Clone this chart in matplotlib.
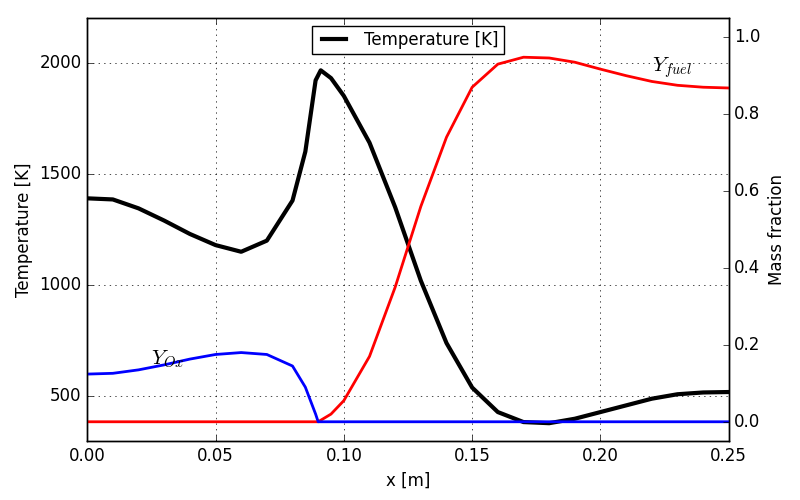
import matplotlib
matplotlib.use('Agg')
import matplotlib.pyplot as plt

plt.style.use('classic')

# temperature profile
x_T = [0.0, 0.01, 0.02, 0.03, 0.04, 0.05, 0.06, 0.07, 0.08, 0.085, 0.089, 0.091,
       0.095, 0.1, 0.11, 0.12, 0.13, 0.14, 0.15, 0.16, 0.17, 0.18, 0.19, 0.2,
       0.21, 0.22, 0.23, 0.24, 0.25]
T = [1390, 1385, 1345, 1290, 1230, 1180, 1150, 1200, 1380, 1600, 1920, 1965,
     1930, 1850, 1640, 1350, 1020, 740, 540, 430, 385, 380, 400, 430,
     460, 490, 510, 518, 520]

# fuel mass fraction
x_f = [0.0, 0.09, 0.095, 0.1, 0.11, 0.12, 0.13, 0.14, 0.15, 0.16, 0.17, 0.18,
       0.19, 0.2, 0.21, 0.22, 0.23, 0.24, 0.25]
Y_fuel = [0.0, 0.0, 0.02, 0.055, 0.17, 0.35, 0.56, 0.74, 0.87, 0.93, 0.948, 0.946,
          0.935, 0.917, 0.9, 0.885, 0.875, 0.87, 0.868]

# oxidiser mass fraction
x_o = [0.0, 0.01, 0.02, 0.03, 0.04, 0.05, 0.06, 0.07, 0.08, 0.085, 0.089, 0.09, 0.25]
Y_ox = [0.124, 0.126, 0.135, 0.148, 0.163, 0.175, 0.18, 0.175, 0.145, 0.09, 0.02, 0.0, 0.0]

fig, ax = plt.subplots(figsize=(8, 5), dpi=100)
fig.patch.set_facecolor('white')
ax.plot(x_T, T, 'k-', lw=3, label='Temperature [K]')
ax.set_xlim(0, 0.25)
ax.set_ylim(300, 2200)
ax.set_yticks([500, 1000, 1500, 2000])
ax.set_xlabel('x [m]')
ax.set_ylabel('Temperature [K]')
ax.grid(True)
ax.legend(loc='upper center', fontsize=12, handlelength=2, borderpad=0.3)

ax2 = ax.twinx()
ax2.plot(x_f, Y_fuel, 'r-', lw=2)
ax2.plot(x_o, Y_ox, 'b-', lw=2)
ax2.set_ylim(-0.05, 1.05)
ax2.set_yticks([0.0, 0.2, 0.4, 0.6, 0.8, 1.0])
ax2.set_ylabel('Mass fraction')
ax2.text(0.025, 0.15, r'$Y_{Ox}$', fontsize=15)
ax2.text(0.22, 0.91, r'$Y_{fuel}$', fontsize=15)

plt.subplots_adjust(left=0.109, right=0.911, bottom=0.118, top=0.964)
plt.savefig('out.png', dpi=100, facecolor='white')
